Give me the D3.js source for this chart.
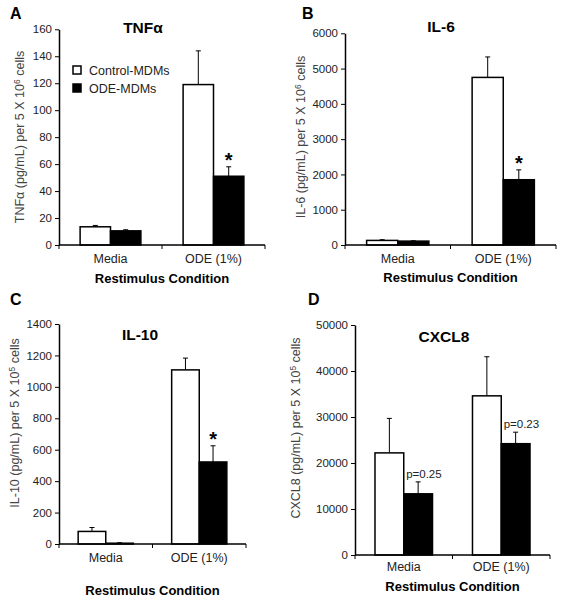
<!DOCTYPE html>
<html><head><meta charset="utf-8">
<script src="https://cdn.jsdelivr.net/npm/d3@7"></script>
<style>body{margin:0;background:#fff}svg{display:block;font-family:"Liberation Sans",Arial,sans-serif}</style>
</head><body>
<script>
const categories = ["Media", "ODE (1%)"];
const seriesNames = ["Control-MDMs", "ODE-MDMs"];

const tnfControl = [13.5, 119], tnfControlErr = [1, 25];
const tnfODE = [10.5, 51], tnfODEErr = [0.8, 7];
const tnfTicks = [0, 20, 40, 60, 80, 100, 120, 140, 160];

const il6Control = [130, 4750], il6ControlErr = [20, 580];
const il6ODE = [110, 1850], il6ODEErr = [10, 280];
const il6Ticks = [0, 1000, 2000, 3000, 4000, 5000, 6000];

const il10Control = [80, 1108], il10ControlErr = [25, 75];
const il10ODE = [5, 522], il10ODEErr = [3, 103];
const il10Ticks = [0, 200, 400, 600, 800, 1000, 1200, 1400];

const cxclControl = [22200, 34600], cxclControlErr = [7500, 8500];
const cxclODE = [13300, 24200], cxclODEErr = [2600, 2500];
const cxclTicks = [0, 10000, 20000, 30000, 40000, 50000];

const svg = d3.select("body").append("svg").attr("width", 562).attr("height", 600);

function panel(o) {
  const g = svg.append("g");
  const yMax = o.ticks[o.ticks.length - 1];
  const y = d3.scaleLinear().domain([0, yMax]).range([o.y0, o.yTop]);
  const x = d3.scaleBand().domain(categories).range([o.x0, o.x1]).paddingInner(0.41).paddingOuter(0.205);
  const xs = d3.scaleBand().domain([0, 1]).range([0, x.bandwidth()]);
  const data = categories.map((c, i) => ({c, vals: [
    {s: 0, v: o.control[i], e: o.controlErr[i]},
    {s: 1, v: o.ode[i], e: o.odeErr[i]}]}));

  data.forEach((d, i) => {
    d.vals.forEach(b => {
      const bx = x(d.c) + xs(b.s), bw = xs.bandwidth();
      const top = y(b.v + b.e), cx = bx + bw / 2;
      g.append("line").attr("x1", cx).attr("x2", cx).attr("y1", y(b.v)).attr("y2", top)
        .attr("stroke", "#000").attr("stroke-width", 1);
      g.append("line").attr("x1", cx - 2.5).attr("x2", cx + 2.5).attr("y1", top).attr("y2", top)
        .attr("stroke", "#000").attr("stroke-width", 1);
      g.append("rect").attr("x", bx).attr("y", y(b.v)).attr("width", bw).attr("height", o.y0 - y(b.v))
        .attr("fill", b.s === 0 ? "#fff" : "#000").attr("stroke", "#000").attr("stroke-width", 1.5);
      const ann = o.ann && o.ann[b.s] && o.ann[b.s][i];
      if (ann === "*") {
        g.append("text").attr("x", cx).attr("y", top).attr("text-anchor", "middle")
          .attr("font-size", 20).attr("font-weight", "bold").text("*");
      } else if (ann) {
        g.append("text").attr("x", cx - 12).attr("y", top - 4).attr("text-anchor", "start")
          .attr("font-size", 11.5).attr("fill", "#222").text(ann);
      }
    });
  });

  const ya = g.append("g").attr("transform", `translate(${o.x0},0)`)
    .call(d3.axisLeft(y).tickValues(o.ticks).tickSize(4).tickSizeOuter(0).tickFormat(d3.format("d")));
  ya.select(".domain").attr("stroke-width", 1.5);
  ya.selectAll("text").attr("font-size", 11.5).attr("fill", "#222").attr("font-family", "Liberation Sans, Arial");
  const xa = g.append("g").attr("transform", `translate(0,${o.y0})`);
  xa.append("line").attr("x1", o.x0).attr("x2", o.x1).attr("stroke", "#000").attr("stroke-width", 1.5);
  [o.x0, (o.x0 + o.x1) / 2, o.x1].forEach(t => xa.append("line").attr("x1", t).attr("x2", t).attr("y1", 0).attr("y2", 4).attr("stroke", "#000"));
  categories.forEach(c => xa.append("text").attr("x", x(c) + x.bandwidth() / 2).attr("y", o.xtickDy)
    .attr("text-anchor", "middle").attr("font-size", 12.5).attr("fill", "#222").text(c));
  g.append("text").attr("x", (o.x0 + o.x1) / 2).attr("y", o.y0 + o.xtitleDy).attr("text-anchor", "middle")
    .attr("font-size", 13).attr("font-weight", "bold").text("Restimulus Condition");

  g.append("text").attr("x", o.titleX).attr("y", o.titleY).attr("text-anchor", "middle")
    .attr("font-size", 15.5).attr("font-weight", "bold").text(o.title);
  g.append("text").attr("x", o.letterX).attr("y", o.letterY).attr("font-size", 16).attr("font-weight", "bold").text(o.letter);
  const yl = g.append("text").attr("transform", `translate(${o.ylX},${o.ylY}) rotate(-90)`)
    .attr("text-anchor", "middle").attr("font-size", 12.5).attr("fill", "#444");
  yl.append("tspan").text(o.ylabel + " per 5 X 10");
  yl.append("tspan").attr("dy", -4).attr("font-size", 8.5).text(o.exp);
  yl.append("tspan").attr("dy", 4).text(" cells");

  if (o.legend) {
    seriesNames.forEach((s, i) => {
      g.append("rect").attr("x", 73).attr("y", 66 + i * 18).attr("width", 8).attr("height", 8)
        .attr("fill", i === 0 ? "#fff" : "#000").attr("stroke", "#000").attr("stroke-width", 1.5);
      g.append("text").attr("x", 89).attr("y", 75 + i * 18).attr("font-size", 12.5).attr("fill", "#222").text(s);
    });
  }
}

panel({x0: 59, x1: 265, yTop: 29.3, y0: 245, ticks: tnfTicks,
  control: tnfControl, controlErr: tnfControlErr, ode: tnfODE, odeErr: tnfODEErr,
  ann: [null, [null, "*"]], title: "TNFα", titleX: 143, titleY: 33, letter: "A", letterX: 10, letterY: 19,
  ylabel: "TNFα  (pg/mL)", exp: "6", ylX: 24, ylY: 137, xtickDy: 18, xtitleDy: 38, legend: true});
panel({x0: 345, x1: 556, yTop: 33.3, y0: 245, ticks: il6Ticks,
  control: il6Control, controlErr: il6ControlErr, ode: il6ODE, odeErr: il6ODEErr,
  ann: [null, [null, "*"]], title: "IL-6", titleX: 441, titleY: 32, letter: "B", letterX: 302, letterY: 19,
  ylabel: "IL-6 (pg/mL)", exp: "6", ylX: 305, ylY: 137, xtickDy: 18, xtitleDy: 37});
panel({x0: 59, x1: 246, yTop: 324, y0: 544, ticks: il10Ticks,
  control: il10Control, controlErr: il10ControlErr, ode: il10ODE, odeErr: il10ODEErr,
  ann: [null, [null, "*"]], title: "IL-10", titleX: 140, titleY: 340, letter: "C", letterX: 10, letterY: 305,
  ylabel: "IL-10 (pg/mL)", exp: "5", ylX: 19, ylY: 423, xtickDy: 18, xtitleDy: 51});
panel({x0: 355, x1: 550, yTop: 325, y0: 555, ticks: cxclTicks,
  control: cxclControl, controlErr: cxclControlErr, ode: cxclODE, odeErr: cxclODEErr,
  ann: [null, ["p=0.25", "p=0.23"]], title: "CXCL8", titleX: 444, titleY: 342, letter: "D", letterX: 308, letterY: 305,
  ylabel: "CXCL8 (pg/mL)", exp: "5", ylX: 300, ylY: 428, xtickDy: 16, xtitleDy: 36});
</script>
</body></html>
